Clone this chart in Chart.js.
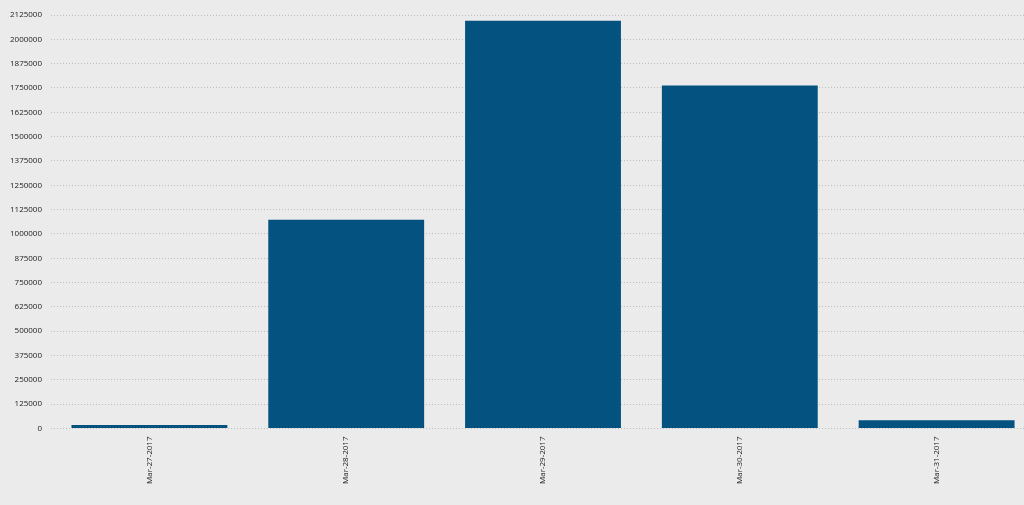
<!DOCTYPE html>
<html lang="en">
<head>
    <meta charset="UTF-8">
    <title>Daily Totals</title>
    <style>
        html, body {
            margin: 0;
            padding: 0;
            background: #ebebeb;
            overflow: hidden;
        }
        .chartBox {
            width: 1040px;
            height: 505px;
        }
    </style>
</head>
<body>
    <div class="chartBox">
        <canvas id="dailyChart"></canvas>
    </div>

    <script src="https://cdn.jsdelivr.net/npm/chart.js"></script>
    <script>
        // data
        const days = ['Mar-27-2017', 'Mar-28-2017', 'Mar-29-2017', 'Mar-30-2017', 'Mar-31-2017'];
        const totals = [18000, 1073000, 2095000, 1763000, 43000];
        const yMax = 2125000;
        const yStep = 125000;

        const ctx = document.getElementById('dailyChart').getContext('2d');
        new Chart(ctx, {
            type: 'bar',
            data: {
                labels: days,
                datasets: [{
                    label: 'Total',
                    data: totals,
                    backgroundColor: '#03527f',
                    borderWidth: 0,
                    categoryPercentage: 1,
                    barPercentage: 0.792
                }]
            },
            options: {
                responsive: true,
                maintainAspectRatio: false,
                animation: false,
                layout: {
                    padding: { top: 15, bottom: 21, left: 1, right: 5 }
                },
                plugins: {
                    legend: { display: false },
                    tooltip: { enabled: false }
                },
                scales: {
                    x: {
                        grid: { display: false },
                        border: { display: false },
                        ticks: {
                            maxRotation: 90,
                            minRotation: 90,
                            padding: 0,
                            color: '#222',
                            font: { family: 'Open Sans', size: 8 }
                        }
                    },
                    y: {
                        min: 0,
                        max: yMax,
                        grid: {
                            color: '#bdbdbd',
                            drawTicks: false,
                            lineWidth: 1
                        },
                        border: { display: false, dash: [1, 2] },
                        ticks: {
                            stepSize: yStep,
                            padding: 9,
                            color: '#222',
                            font: { family: 'Open Sans', size: 8 },
                            callback: v => String(v)
                        }
                    }
                }
            }
        });
    </script>
</body>
</html>
